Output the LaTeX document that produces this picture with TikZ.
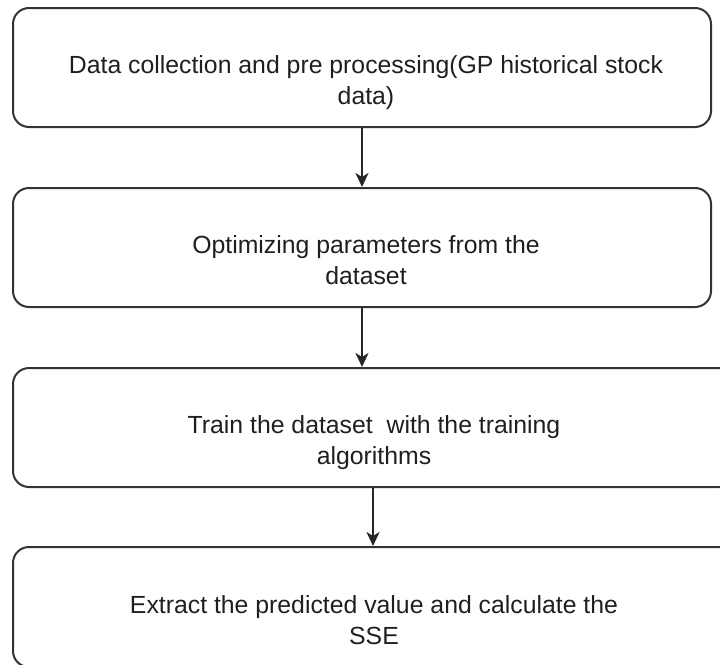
\documentclass[tikz,border=0pt]{standalone}
\usepackage{fontspec}
\setmainfont{Liberation Sans}
\usetikzlibrary{arrows.meta}
\begin{document}
\begin{tikzpicture}[x=1pt,y=-1pt,
  stepbox/.style={draw=black!80, line width=2pt, rounded corners=16pt, inner sep=0pt},
  boxtext/.style={align=center, font=\fontsize{24.8}{31}\selectfont, text=black!88, inner sep=0pt},
  flow/.style={draw=black!85, line width=2pt, -{Stealth[length=14pt,width=13pt,inset=4pt]}}]
\useasboundingbox (0,0) rectangle (720,664);
\node[stepbox, minimum width=698pt, minimum height=119pt] (b1) at (362,67.5) {};
\node[stepbox, minimum width=698pt, minimum height=119pt] (b2) at (362,247.5) {};
\node[stepbox, minimum width=722pt, minimum height=119pt] (b3) at (374,427.5) {};
\node[stepbox, minimum width=722pt, minimum height=120pt] (b4) at (374,607) {};
\node[boxtext] (t1) at (366,83) {\strut Data collection and pre processing(GP historical stock\\data)\strut};
\node[boxtext] (t2) at (366,263) {\strut Optimizing parameters from the\\dataset\strut};
\node[boxtext] (t3) at (374,443) {\strut Train the dataset\ \ with the training\\algorithms\strut};
\node[boxtext] (t4) at (374,622.5) {\strut Extract the predicted value and calculate the\\SSE\strut};
\draw[flow] (b1.south) -- (b2.north);
\draw[flow] (b2.south) -- (b3.north -| b2.south);
\draw[flow] (b3.south -| 373,0) -- (b4.north -| 373,0);
\end{tikzpicture}
\end{document}
